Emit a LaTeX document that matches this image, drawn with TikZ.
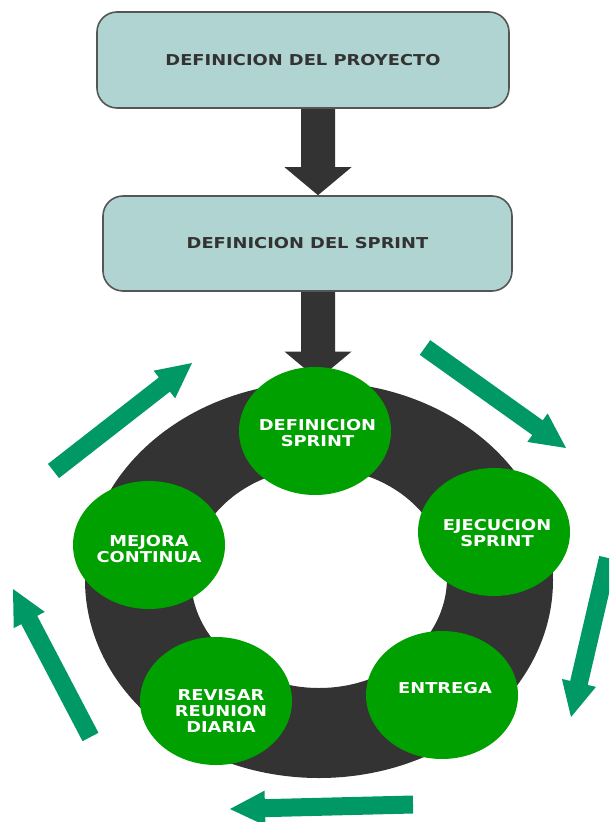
\documentclass[tikz,border=0pt]{standalone}
\usepackage{fontspec}
\newfontfamily\lblfont{DejaVu Sans}[FakeStretch=1.19]
\usetikzlibrary{calc,shapes.geometric,backgrounds}

\definecolor{boxfill}{RGB}{176,212,209}
\definecolor{boxline}{RGB}{85,85,85}
\definecolor{ringdark}{RGB}{51,51,51}
\definecolor{stepgreen}{RGB}{0,160,0}
\definecolor{cyclegreen}{RGB}{0,153,102}
\definecolor{textdark}{RGB}{51,51,51}

\tikzset{
  phasebox/.style={draw=boxline, line width=0.8pt, fill=boxfill, rounded corners=10pt,
    minimum width=206pt, minimum height=48pt, inner sep=0pt, text=textdark,
    font=\lblfont\bfseries\fontsize{7.5}{8.5}\selectfont},
  stagedisc/.style={ellipse, fill=stepgreen, minimum width=76pt, minimum height=64pt, inner sep=0pt},
  stagetext/.style={text=white, align=center, inner sep=0pt,
    font=\lblfont\bfseries\fontsize{7.5}{8}\selectfont},
  flowarrow/.style={fill=ringdark},
  cyclearrow/.style={fill=cyclegreen},
}

% thick downward block arrow from #1 (top of shaft) to #2 (tip)
\newcommand\drawflowarrow[2]{%
  \fill[flowarrow] ($(#1)+(-17,0)$) -- ($(#2)+(-17,-28)$) -- ($(#2)+(-33.5,-28)$) -- (#2)
    -- ($(#2)+(33.5,-28)$) -- ($(#2)+(17,-28)$) -- ($(#1)+(17,0)$) -- cycle;}

% straight cycle arrow from tail #1 to tip #2
\newcommand\drawcycarrow[2]{%
  \coordinate (neck) at ($(#2)!17.5pt!(#1)$);
  \fill[cyclearrow] ($(#1)!4.5pt!90:(#2)$) -- ($(neck)!4.5pt!-90:(#1)$)
    -- ($(neck)!8.75pt!-90:(#1)$) -- (#2) -- ($(neck)!8.75pt!90:(#1)$)
    -- ($(neck)!4.5pt!90:(#1)$) -- ($(#1)!4.5pt!-90:(#2)$) -- cycle;}

\begin{document}
\begin{tikzpicture}[x=0.5pt, y=-0.5pt]
  \useasboundingbox (0,0) rectangle (609,822);
  \clip (0,0) rectangle (609,822);

  % project and sprint definition boxes
  \node[phasebox] (b1) at (303,60) {DEFINICION DEL PROYECTO};
  \node[phasebox, minimum width=204.5pt, minimum height=47.5pt] (b2) at (307.5,243.5) {DEFINICION DEL SPRINT};

  % sprint cycle ring
  \fill[ringdark, even odd rule] (319,580) ellipse [x radius=117pt, y radius=99pt]
                                 (319,578) ellipse [x radius=64pt, y radius=55pt];

  % stage discs
  \node[stagedisc] (c1) at (315,431) {};
  \node[stagedisc] (c2) at (494,532) {};
  \node[stagedisc] (c3) at (442,695) {};
  \node[stagedisc] (c4) at (216,701) {};
  \node[stagedisc] (c5) at (149,545) {};

  % block arrows between the boxes and into the cycle, behind the discs
  \begin{scope}[on background layer]
    \coordinate (a1s) at ($(b1.south)+(15,0)$);
    \coordinate (a1e) at (a1s |- b2.north);
    \drawflowarrow{a1s}{a1e}
    \coordinate (a2s) at ($(b2.south)+(10.5,0)$);
    \coordinate (a2e) at ($(a2s |- c1.north)+(0,13)$);
    \drawflowarrow{a2s}{a2e}
  \end{scope}

  % stage labels
  \node[stagetext] (t1) at ($(c1)+(2.5,2.5)$) {DEFINICION\\SPRINT};
  \node[stagetext] (t2) at ($(c2)+(3,1.5)$) {EJECUCION\\SPRINT};
  \node[stagetext] (t3) at ($(c3)+(3,-7)$) {ENTREGA};
  \node[stagetext] (t4) at ($(c4)+(5,10)$) {REVISAR\\REUNION\\DIARIA};
  \node[stagetext] (t5) at ($(c5)+(0,4)$) {MEJORA\\CONTINUA};

  % cycle arrows around the ring
  \coordinate (g1t) at (53.5,471);  \coordinate (g1h) at (192,363);
  \coordinate (g2t) at (425,347.5); \coordinate (g2h) at (566,448);
  \coordinate (g3t) at (608,558);   \coordinate (g3h) at (571,717);
  \coordinate (g4t) at (413,804.5); \coordinate (g4h) at (230,809);
  \coordinate (g5t) at (90.5,737);  \coordinate (g5h) at (13,589);
  \drawcycarrow{g1t}{g1h}
  \drawcycarrow{g2t}{g2h}
  \drawcycarrow{g3t}{g3h}
  \drawcycarrow{g4t}{g4h}
  \drawcycarrow{g5t}{g5h}
\end{tikzpicture}
\end{document}
